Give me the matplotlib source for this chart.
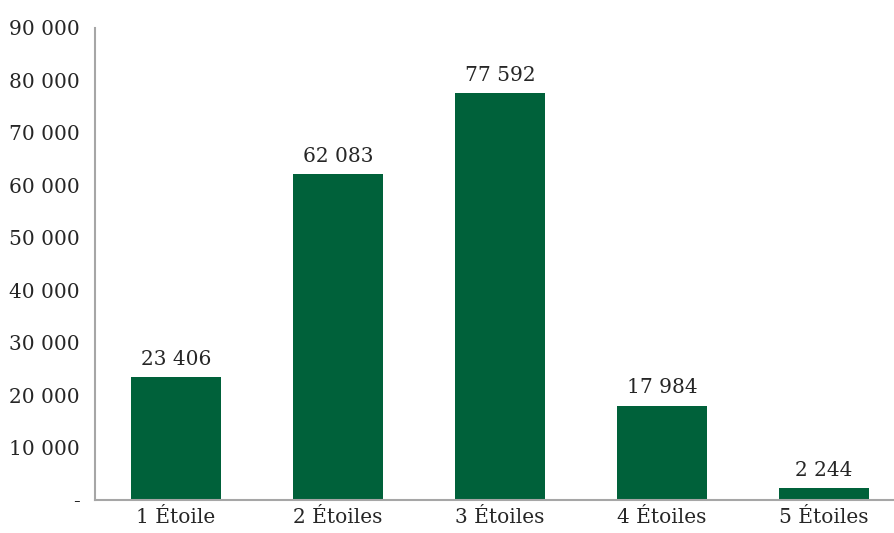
import matplotlib
matplotlib.use("Agg")
import matplotlib.pyplot as plt
from matplotlib.ticker import FuncFormatter

categories = ["1 Étoile", "2 Étoiles", "3 Étoiles", "4 Étoiles", "5 Étoiles"]
values = [23406, 62083, 77592, 17984, 2244]
y_ticks = list(range(0, 90001, 10000))

BAR_COLOR = "#00613A"
TEXT_COLOR = "#262626"
SPINE_COLOR = "#A6A6A6"


def fmt_space(v, pos=None):
    if v == 0:
        return "-"
    return f"{int(v):,}".replace(",", " ")


plt.rcParams["font.family"] = ["DejaVu Serif"]

fig = plt.figure(figsize=(8.95, 5.33), dpi=100)
ax = fig.add_axes([95 / 895, 33 / 533, 810 / 895, 472 / 533])

x = range(len(categories))
ax.bar(x, values, width=0.56, color=BAR_COLOR)

for xi, v in zip(x, values):
    ax.annotate(fmt_space(v), (xi, v), textcoords="offset points", xytext=(0, 6),
                ha="center", va="bottom", fontsize=14.5, color=TEXT_COLOR)

ax.set_xlim(-0.5, len(categories) - 0.5)
ax.set_ylim(0, 90000)
ax.set_yticks(y_ticks)
ax.yaxis.set_major_formatter(FuncFormatter(fmt_space))
ax.set_xticks(list(x))
ax.set_xticklabels(categories)

ax.tick_params(axis="both", length=0, labelsize=14.5, colors=TEXT_COLOR)
ax.tick_params(axis="y", pad=11)
ax.tick_params(axis="x", pad=6)

for side in ["top", "right"]:
    ax.spines[side].set_visible(False)
for side in ["left", "bottom"]:
    ax.spines[side].set_color(SPINE_COLOR)
    ax.spines[side].set_linewidth(1.5)

fig.savefig("out.png", dpi=100)
